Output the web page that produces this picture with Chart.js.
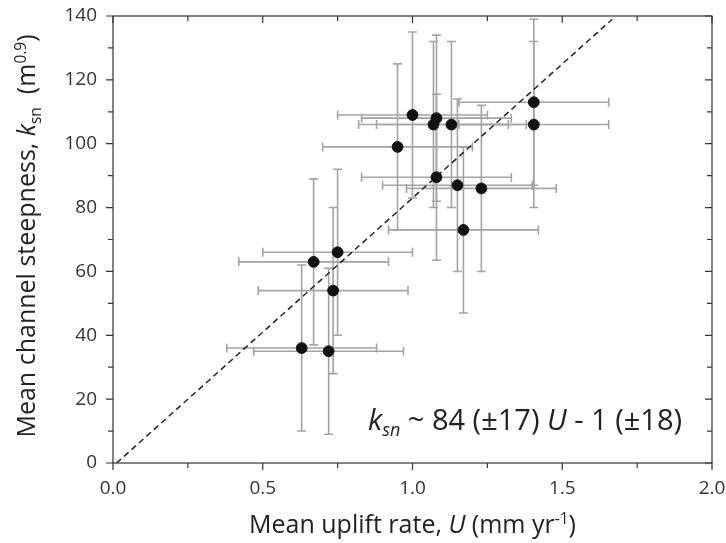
<!DOCTYPE html>
<html>
<head>
<meta charset="utf-8">
<script src="https://cdn.jsdelivr.net/npm/chart.js@4.4.0/dist/chart.umd.min.js"></script>
<style>
  html, body { margin: 0; padding: 0; background: #fff; }
</style>
</head>
<body>
<canvas id="ksnChart" width="726" height="543"></canvas>
<script>
// mean uplift rate U (mm/yr) vs mean channel steepness ksn
const upliftRate = [0.63, 0.72, 0.67, 0.735, 0.75, 0.95, 1.0, 1.07, 1.08, 1.13, 1.08, 1.15, 1.23, 1.17, 1.405, 1.405];
const ksnValues  = [36, 35, 63, 54, 66, 99, 109, 106, 108, 106, 89.5, 87, 86, 73, 113, 106];
const upliftErr  = [0.25, 0.25, 0.25, 0.25, 0.25, 0.25, 0.25, 0.25, 0.25, 0.25, 0.25, 0.25, 0.25, 0.25, 0.25, 0.25];
const ksnErr     = [26, 26, 26, 26, 26, 26, 26, 26, 26, 26, 26, 27, 26, 26, 26, 26];

// dashed regression line ends
const fitLineX = [0.012, 1.667];
const fitLineY = [0, 139];

const xTicks = [0, 0.5, 1.0, 1.5, 2.0];
const xMinorTicks = [0.25, 0.75, 1.25, 1.75];
const yTicks = [0, 20, 40, 60, 80, 100, 120, 140];
const yMinorTicks = [10, 30, 50, 70, 90, 110, 130];

const FONT = '"Open Sans", "Noto Sans", sans-serif';

// draws text made of pieces (italic / sub / sup)
function richText(ctx, parts, size, x, y, align) {
  const pieces = parts.map(p => {
    const sz = (p.sub || p.sup) ? size * 0.62 : size;
    const font = (p.it ? 'italic ' : '') + sz + 'px ' + FONT;
    ctx.font = font;
    return { t: p.t, font: font, w: ctx.measureText(p.t).width, dy: p.sub ? size * 0.22 : (p.sup ? -size * 0.38 : 0) };
  });
  const total = pieces.reduce((s, p) => s + p.w, 0);
  let cx = align === 'center' ? x - total / 2 : x;
  ctx.textBaseline = 'alphabetic';
  ctx.textAlign = 'left';
  pieces.forEach(p => {
    ctx.font = p.font;
    ctx.fillText(p.t, cx, y + p.dy);
    cx += p.w;
  });
}

const errorBars = {
  id: 'errorBars',
  beforeDatasetsDraw(chart) {
    const ctx = chart.ctx;
    const x = chart.scales.x, y = chart.scales.y;
    const cap = 4.5;
    ctx.save();
    ctx.strokeStyle = '#a3a3a3';
    ctx.lineWidth = 1.6;
    upliftRate.forEach((u, i) => {
      const px = x.getPixelForValue(u);
      const py = y.getPixelForValue(ksnValues[i]);
      const x0 = x.getPixelForValue(u - upliftErr[i]);
      const x1 = x.getPixelForValue(u + upliftErr[i]);
      const y0 = y.getPixelForValue(ksnValues[i] - ksnErr[i]);
      const y1 = y.getPixelForValue(ksnValues[i] + ksnErr[i]);
      ctx.beginPath();
      ctx.moveTo(x0, py); ctx.lineTo(x1, py);
      ctx.moveTo(x0, py - cap); ctx.lineTo(x0, py + cap);
      ctx.moveTo(x1, py - cap); ctx.lineTo(x1, py + cap);
      ctx.moveTo(px, y0); ctx.lineTo(px, y1);
      ctx.moveTo(px - cap, y0); ctx.lineTo(px + cap, y0);
      ctx.moveTo(px - cap, y1); ctx.lineTo(px + cap, y1);
      ctx.stroke();
    });
    ctx.restore();
  }
};

const frameAndText = {
  id: 'frameAndText',
  afterDraw(chart) {
    const ctx = chart.ctx;
    const a = chart.chartArea;
    const x = chart.scales.x, y = chart.scales.y;
    ctx.save();
    ctx.strokeStyle = '#333';
    ctx.lineWidth = 1.2;
    ctx.strokeRect(a.left, a.top, a.right - a.left, a.bottom - a.top);

    // tick marks: outward on left/bottom, inward on top/right
    ctx.beginPath();
    const tickX = (v, len) => {
      const p = x.getPixelForValue(v);
      ctx.moveTo(p, a.bottom); ctx.lineTo(p, a.bottom + len);
      ctx.moveTo(p, a.top); ctx.lineTo(p, a.top + len);
    };
    const tickY = (v, len) => {
      const p = y.getPixelForValue(v);
      ctx.moveTo(a.left, p); ctx.lineTo(a.left - len, p);
      ctx.moveTo(a.right, p); ctx.lineTo(a.right - len, p);
    };
    xTicks.forEach(v => tickX(v, 7));
    xMinorTicks.forEach(v => tickX(v, 5));
    yTicks.forEach(v => tickY(v, 7));
    yMinorTicks.forEach(v => tickY(v, 5));
    ctx.stroke();

    ctx.fillStyle = '#222';
    // x title
    richText(ctx, [
      { t: 'Mean uplift rate, ' }, { t: 'U', it: true }, { t: ' (mm yr' }, { t: '-1', sup: true }, { t: ')' }
    ], 25, (a.left + a.right) / 2, 533, 'center');

    // y title
    ctx.save();
    ctx.translate(35, 236);
    ctx.rotate(-Math.PI / 2);
    richText(ctx, [
      { t: 'Mean channel steepness, ' }, { t: 'k', it: true }, { t: 'sn', sub: true }, { t: '  (m' }, { t: '0.9', sup: true }, { t: ')' }
    ], 25, 0, 0, 'center');
    ctx.restore();

    // regression equation
    richText(ctx, [
      { t: 'k', it: true }, { t: 'sn', it: true, sub: true }, { t: ' ~ 84 (\u00b117) ' }, { t: 'U', it: true }, { t: ' - 1 (\u00b118)' }
    ], 29, 368, 430, 'left');
    ctx.restore();
  }
};

const points = upliftRate.map((u, i) => ({ x: u, y: ksnValues[i] }));
const fitLine = fitLineX.map((u, i) => ({ x: u, y: fitLineY[i] }));

const ctx = document.getElementById('ksnChart').getContext('2d');
const chart = new Chart(ctx, {
  type: 'scatter',
  data: {
    datasets: [
      {
        label: 'basins',
        data: points,
        backgroundColor: '#111',
        borderColor: '#111',
        pointRadius: 5.4,
        pointHoverRadius: 5.4
      },
      {
        type: 'line',
        label: 'fit',
        data: fitLine,
        borderColor: '#222',
        borderWidth: 1.5,
        borderDash: [6, 4],
        pointRadius: 0,
        fill: false
      }
    ]
  },
  options: {
    responsive: false,
    animation: false,
    layout: { padding: { top: 16, right: 14, left: 0, bottom: 0 } },
    plugins: { legend: { display: false }, tooltip: { enabled: false } },
    scales: {
      x: {
        type: 'linear',
        min: 0,
        max: 2,
        afterBuildTicks: s => { s.ticks = xTicks.map(v => ({ value: v })); },
        afterFit: s => { s.height = 80; s.paddingLeft = 0; s.paddingRight = 0; },
        grid: { display: false, drawTicks: false },
        border: { display: false },
        ticks: {
          font: { family: FONT, size: 19 },
          color: '#333',
          padding: 14,
          maxRotation: 0,
          autoSkip: false,
          callback: v => Number(v).toFixed(1)
        }
      },
      y: {
        type: 'linear',
        min: 0,
        max: 140,
        afterBuildTicks: s => { s.ticks = yTicks.map(v => ({ value: v })); },
        afterFit: s => { s.width = 113; s.paddingTop = 0; s.paddingBottom = 0; },
        grid: { display: false, drawTicks: false },
        border: { display: false },
        ticks: {
          font: { family: FONT, size: 19 },
          color: '#333',
          padding: 16,
          autoSkip: false,
          callback: v => String(v)
        }
      }
    }
  },
  plugins: [errorBars, frameAndText]
});
</script>
</body>
</html>
